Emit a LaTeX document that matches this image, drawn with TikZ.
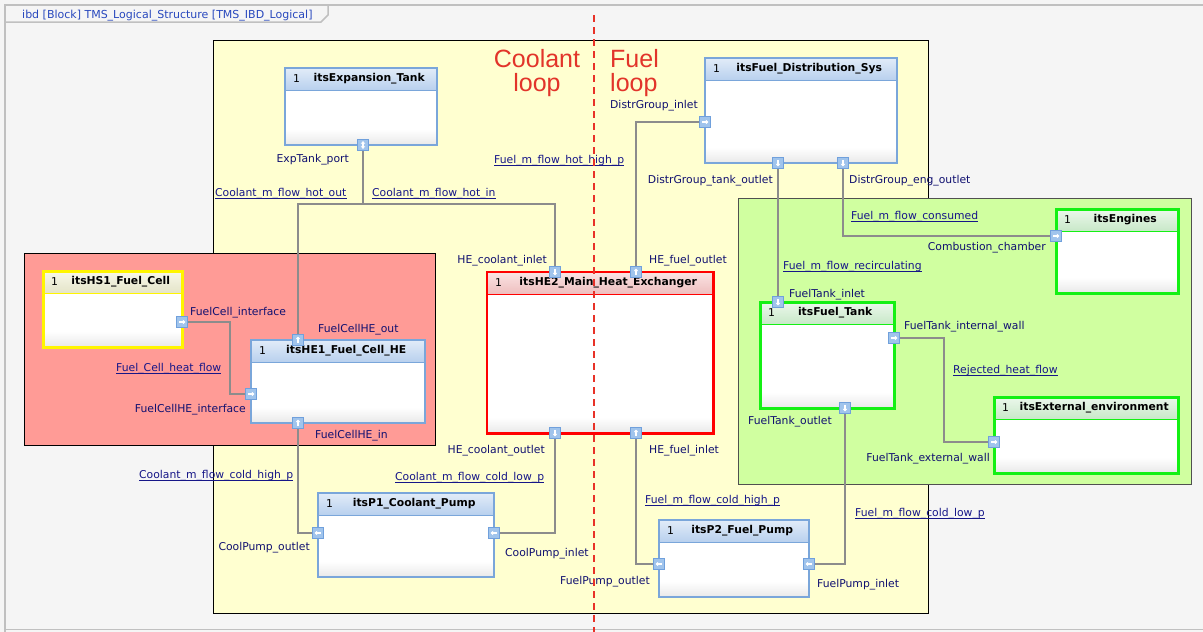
\documentclass[tikz,border=0pt]{standalone}
\usepackage{fontspec}
\setmainfont{DejaVu Sans}
\newfontfamily\loopfont{Liberation Sans}
\usetikzlibrary{arrows.meta}

% palette
\definecolor{canvasgray}{RGB}{245,245,245}
\definecolor{framegray}{RGB}{192,192,192}
\definecolor{titleblue}{RGB}{40,72,190}
\definecolor{loopyellow}{RGB}{255,255,208}
\definecolor{cellred}{RGB}{255,155,150}
\definecolor{fuelgreen}{RGB}{208,255,160}
\definecolor{greenframe}{RGB}{80,80,80}
\definecolor{wiregray}{RGB}{140,140,140}
\definecolor{portnavy}{RGB}{16,16,112}
\definecolor{flownavy}{RGB}{22,22,136}
\definecolor{loopred}{RGB}{226,52,42}
\definecolor{dividerred}{RGB}{232,50,40}
\definecolor{bodyshade}{RGB}{232,232,232}
\definecolor{portfill}{RGB}{160,196,236}
\definecolor{portedge}{RGB}{112,160,220}
% block kinds: b = blue, r = red, g = green, y = yellow
\definecolor{bedge}{RGB}{122,166,218}
\definecolor{btop}{RGB}{226,236,248}
\definecolor{bbot}{RGB}{184,208,238}
\definecolor{redge}{RGB}{255,0,0}
\definecolor{rtop}{RGB}{250,228,228}
\definecolor{rbot}{RGB}{238,190,190}
\definecolor{gedge}{RGB}{20,240,20}
\definecolor{gtop}{RGB}{236,248,236}
\definecolor{gbot}{RGB}{200,232,200}
\definecolor{yedge}{RGB}{255,245,0}
\definecolor{ytop}{RGB}{248,248,234}
\definecolor{ybot}{RGB}{228,228,200}

\newcommand\lblfont{\fontsize{10.8}{12}\selectfont}

\pgfdeclarelayer{regions}
\pgfdeclarelayer{wires}
\pgfdeclarelayer{divider}
\pgfsetlayers{regions,wires,main,divider}

\tikzset{
  conn/.style={draw=wiregray, line width=1.6pt},
  portlbl/.style={text=portnavy, font=\lblfont, inner sep=0pt},
  flowlbl/.style={text=flownavy, font=\lblfont, inner sep=0pt},
  flowline/.style={draw=flownavy, line width=1pt},
  port/.style={rectangle, draw=portedge, fill=portfill, line width=1pt,
    minimum size=11pt, inner sep=0pt},
  parrow/.style={draw=white, line width=1.2pt,
    -{Triangle[length=2.6pt,width=4.6pt]}},
  pbody/.style={rectangle, fill=white, inner sep=0pt},
  bline/.style={draw=bedge, line width=2pt},
  rline/.style={draw=redge, line width=2.5pt},
  gline/.style={draw=gedge, line width=3pt},
  yline/.style={draw=yedge, line width=3pt},
  mult/.style={font=\lblfont, inner sep=0pt, anchor=west},
  ptitle/.style={font=\lblfont\bfseries, inner sep=0pt},
  regionline/.style={draw=black, line width=1pt},
  looptxt/.style={text=loopred, font=\loopfont\fontsize{25}{25}\selectfont, inner sep=0pt},
}

% part block: name, x, y (top left), width, height, kind, title
\newcommand\partbox[7]{%
  \node[pbody, minimum width=#4pt, minimum height=#5pt, anchor=north west] (#1) at (#2,#3) {};
  \shade[top color=white, bottom color=bodyshade] ([yshift=16pt]#1.south west) rectangle (#1.south east);
  \shade[top color=#6top, bottom color=#6bot] (#1.north west) rectangle ([yshift=-22pt]#1.north east);
  \draw[#6line, line width=1pt] ([yshift=-22pt]#1.north west) -- ([yshift=-22pt]#1.north east);
  \draw[#6line] (#1.north west) rectangle (#1.south east);
  \node[mult] (#1-m) at ([xshift=8pt, yshift=-11pt]#1.north west) {1};
  \node[ptitle] (#1-t) at ([xshift=8pt, yshift=-11pt]#1.north) {#7};
}
% white arrow inside a port square: port name, direction angle
\newcommand\portarrow[2]{%
  \draw[parrow] ([shift={(#2:-3pt)}]#1.center) -- ([shift={(#2:3.4pt)}]#1.center);}
% underlined flow name: name, x, baseline y, text
\newcommand\flowlabel[4]{%
  \node[flowlbl, anchor=base west] (#1) at (#2,#3) {#4};
  \draw[flowline] ([yshift=-2.6pt]#1.base west) -- ([yshift=-2.6pt]#1.base east);}

\begin{document}
\begin{tikzpicture}[x=1pt,y=-1pt]
\useasboundingbox (0,0) rectangle (1203,632);

% ---- canvas, diagram frame and system regions
\begin{pgfonlayer}{regions}
  \fill[canvasgray] (0,0) rectangle (1203,632);
  \draw[framegray, line width=1.5pt] (5,640) -- (5,5) -- (1210,5);
  \draw[framegray, line width=1.5pt] (5,22) -- (321,22) -- (328,15) -- (328,5);
  \draw[framegray, line width=1pt] (5,629) -- (1210,629);
  \draw[regionline, fill=loopyellow] (213,40) rectangle (928,613);
  \draw[regionline, fill=cellred] (24,253) rectangle (435,445);
  \draw[regionline, draw=greenframe, fill=fuelgreen] (738,198) rectangle (1191,484);
\end{pgfonlayer}

\node[anchor=base west, inner sep=0pt, text=titleblue, font=\fontsize{11}{12}\selectfont]
  (title) at (22,18) {ibd [Block] TMS\_Logical\_Structure [TMS\_IBD\_Logical]};

% ---- loop captions
\node[looptxt, anchor=base] (cool1) at (537,67) {Coolant};
\node[looptxt, anchor=base] (cool2) at (537,91) {loop};
\node[looptxt, anchor=base west] (fuel1) at (610,67) {Fuel};
\node[looptxt, anchor=base west] (fuel2) at (610,91) {loop};

% ---- parts
\partbox{bExp}{285}{68}{152}{77}{b}{itsExpansion\_Tank}
\partbox{bFDS}{705}{58}{192}{105}{b}{itsFuel\_Distribution\_Sys}
\partbox{bHS1}{43}{271}{139}{76}{y}{itsHS1\_Fuel\_Cell}
\partbox{bHE1}{251}{340}{174}{83}{b}{itsHE1\_Fuel\_Cell\_HE}
\partbox{bHE2}{487}{272}{226}{161}{r}{itsHE2\_Main\_Heat\_Exchanger}
\partbox{bEng}{1056}{209}{122}{84}{g}{itsEngines}
\partbox{bFT}{760}{302}{134}{106}{g}{itsFuel\_Tank}
\partbox{bExt}{994}{397}{184}{76}{g}{itsExternal\_environment}
\partbox{bP1}{318}{493}{176}{84}{b}{itsP1\_Coolant\_Pump}
\partbox{bP2}{659}{520}{150}{77}{b}{itsP2\_Fuel\_Pump}

% ---- ports
\node[port] (pExp)    at (363,145) {};
\node[port] (pFC)     at (182,322) {};
\node[port] (pHE1out) at (298,340) {};
\node[port] (pHE1if)  at (251,394) {};
\node[port] (pHE1in)  at (298,423) {};
\node[port] (pHE2ci)  at (555,272) {};
\node[port] (pHE2fo)  at (636,272) {};
\node[port] (pHE2co)  at (555,433) {};
\node[port] (pHE2fi)  at (636,433) {};
\node[port] (pFDSi)   at (705,122) {};
\node[port] (pFDSt)   at (778,163) {};
\node[port] (pFDSe)   at (843,163) {};
\node[port] (pEng)    at (1056,236) {};
\node[port] (pFTi)    at (778,302) {};
\node[port] (pFTw)    at (894,338) {};
\node[port] (pFTo)    at (845,408) {};
\node[port] (pExt)    at (994,442) {};
\node[port] (pP1o)    at (318,533) {};
\node[port] (pP1i)    at (494,533) {};
\node[port] (pP2o)    at (659,564) {};
\node[port] (pP2i)    at (809,564) {};

\draw[draw=white, line width=1.2pt, {Triangle[length=2.4pt,width=4.4pt]}-{Triangle[length=2.4pt,width=4.4pt]}]
  ([yshift=3.8pt]pExp.center) -- ([yshift=-3.8pt]pExp.center);
\portarrow{pFC}{0}
\portarrow{pHE1out}{90}
\portarrow{pHE1if}{0}
\portarrow{pHE1in}{90}
\portarrow{pHE2ci}{270}
\portarrow{pHE2fo}{90}
\portarrow{pHE2co}{270}
\portarrow{pHE2fi}{90}
\portarrow{pFDSi}{0}
\portarrow{pFDSt}{270}
\portarrow{pFDSe}{270}
\portarrow{pEng}{0}
\portarrow{pFTi}{270}
\portarrow{pFTw}{0}
\portarrow{pFTo}{270}
\portarrow{pExt}{0}
\portarrow{pP1o}{180}
\portarrow{pP1i}{180}
\portarrow{pP2o}{180}
\portarrow{pP2i}{180}

% ---- connectors
\coordinate (jExp) at (363,204);
\coordinate (jFC)  at (230,358);
\coordinate (jRej) at (944,390);
\begin{pgfonlayer}{wires}
  \draw[conn] (pExp.south) -- (jExp);
  \draw[conn] (jExp) -| (pHE1out.north);
  \draw[conn] (jExp) -| (pHE2ci.north);
  \draw[conn] (pFC.east) -| (jFC) |- (pHE1if.west);
  \draw[conn] (pHE1in.south) |- (pP1o.west);
  \draw[conn] (pP1i.east) -| (pHE2co.south);
  \draw[conn] (pHE2fo.north) |- (pFDSi.west);
  \draw[conn] (pFDSt.south) -- (pFTi.north);
  \draw[conn] (pFDSe.south) |- (pEng.west);
  \draw[conn] (pFTw.east) -| (jRej) |- (pExt.west);
  \draw[conn] (pFTo.south) |- (pP2i.east);
  \draw[conn] (pP2o.west) -| (pHE2fi.south);
\end{pgfonlayer}

% ---- port names
\node[portlbl, anchor=base east] (lExp)    at (349,162) {ExpTank\_port};
\node[portlbl, anchor=base east] (lFDSi)   at (698,108) {DistrGroup\_inlet};
\node[portlbl, anchor=base east] (lFDSt)   at (773,183) {DistrGroup\_tank\_outlet};
\node[portlbl, anchor=base west] (lFDSe)   at (849,183) {DistrGroup\_eng\_outlet};
\node[portlbl, anchor=base east] (lEng)    at (1046,250) {Combustion\_chamber};
\node[portlbl, anchor=base west] (lFTi)    at (789,297) {FuelTank\_inlet};
\node[portlbl, anchor=base west] (lFTw)    at (904,329) {FuelTank\_internal\_wall};
\node[portlbl, anchor=base east] (lFTo)    at (832,424) {FuelTank\_outlet};
\node[portlbl, anchor=base east] (lExt)    at (990,461) {FuelTank\_external\_wall};
\node[portlbl, anchor=base east] (lHE2ci)  at (547,263) {HE\_coolant\_inlet};
\node[portlbl, anchor=base west] (lHE2fo)  at (649,263) {HE\_fuel\_outlet};
\node[portlbl, anchor=base west] (lFC)     at (190,315) {FuelCell\_interface};
\node[portlbl, anchor=base west] (lHE1out) at (318,332) {FuelCellHE\_out};
\node[portlbl, anchor=base east] (lHE1if)  at (246,412) {FuelCellHE\_interface};
\node[portlbl, anchor=base west] (lHE1in)  at (315,438) {FuelCellHE\_in};
\node[portlbl, anchor=base east] (lHE2co)  at (545,453) {HE\_coolant\_outlet};
\node[portlbl, anchor=base west] (lHE2fi)  at (649,453) {HE\_fuel\_inlet};
\node[portlbl, anchor=base east] (lP1o)    at (310,550) {CoolPump\_outlet};
\node[portlbl, anchor=base west] (lP1i)    at (505,556) {CoolPump\_inlet};
\node[portlbl, anchor=base east] (lP2o)    at (650,584) {FuelPump\_outlet};
\node[portlbl, anchor=base west] (lP2i)    at (817,587) {FuelPump\_inlet};

% ---- flow names
\flowlabel{fHotOut}{215}{196}{Coolant\_m\_flow\_hot\_out}
\flowlabel{fHotIn}{372}{196}{Coolant\_m\_flow\_hot\_in}
\flowlabel{fFuelHot}{494}{163}{Fuel\_m\_flow\_hot\_high\_p}
\flowlabel{fCons}{851}{219}{Fuel\_m\_flow\_consumed}
\flowlabel{fRecirc}{783}{269}{Fuel\_m\_flow\_recirculating}
\flowlabel{fRej}{953}{373}{Rejected\_heat\_flow}
\flowlabel{fFuelLow}{855}{516}{Fuel\_m\_flow\_cold\_low\_p}
\flowlabel{fCellHeat}{116}{371}{Fuel\_Cell\_heat\_flow}
\flowlabel{fCoolHigh}{139}{478}{Coolant\_m\_flow\_cold\_high\_p}
\flowlabel{fCoolLow}{395}{480}{Coolant\_m\_flow\_cold\_low\_p}
\flowlabel{fFuelHigh}{645}{503}{Fuel\_m\_flow\_cold\_high\_p}

% ---- boundary between the coolant and fuel loops
\begin{pgfonlayer}{divider}
  \draw[dividerred, line width=2.4pt, dash pattern=on 7pt off 5pt] (594,15) -- (594,632);
\end{pgfonlayer}
\end{tikzpicture}
\end{document}
